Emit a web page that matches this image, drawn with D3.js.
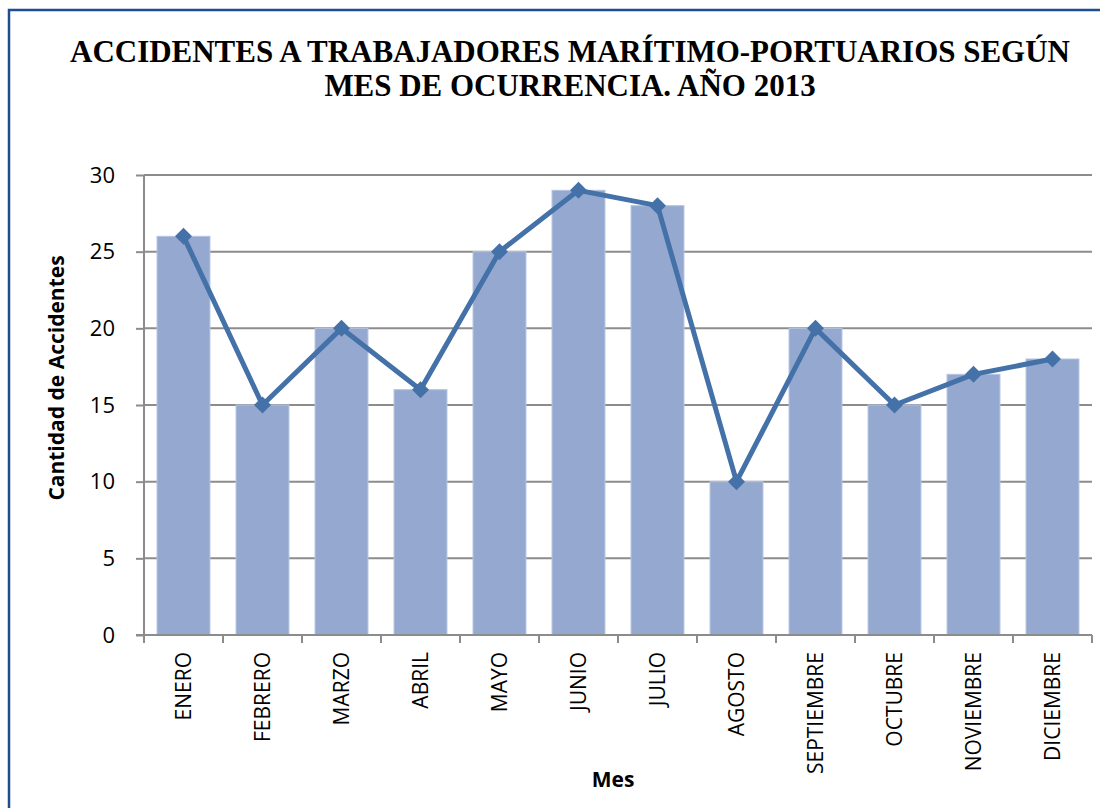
<!DOCTYPE html>
<html>
<head>
<meta charset="utf-8">
<script src="https://cdn.jsdelivr.net/npm/d3@7"></script>
<style>
  body { margin: 0; background: #fff; }
  svg { display: block; }
  .title { font-family: "Liberation Serif", "DejaVu Serif", serif; font-weight: bold; fill: #000; }
  .axis text { font-family: "Open Sans", "Noto Sans", sans-serif; fill: #000; }
  .axis-title { font-family: "Open Sans", "Noto Sans", sans-serif; font-weight: bold; font-size: 21px; }
</style>
</head>
<body>
<div id="chart"></div>
<script>
// data
let months = ["ENERO", "FEBRERO", "MARZO", "ABRIL", "MAYO", "JUNIO", "JULIO",
              "AGOSTO", "SEPTIEMBRE", "OCTUBRE", "NOVIEMBRE", "DICIEMBRE"];
let accidents = [26, 15, 20, 16, 25, 29, 28, 10, 20, 15, 17, 18];
let yTicks = [0, 5, 10, 15, 20, 25, 30];
let titleLines = ["ACCIDENTES A TRABAJADORES MARÍTIMO-PORTUARIOS SEGÚN",
                  "MES DE OCURRENCIA. AÑO 2013"];

let W = 1100, H = 808;
let margin = { top: 175, right: 8, bottom: 173, left: 144 };
let width = W - margin.left - margin.right;
let height = H - margin.top - margin.bottom;

let svg = d3.select("#chart").append("svg")
    .attr("width", W)
    .attr("height", H);

// outer chart border (runs off the right/bottom edge like the original)
svg.append("rect")
    .attr("x", 9).attr("y", 10)
    .attr("width", W + 20).attr("height", H + 20)
    .attr("fill", "none")
    .attr("stroke", "#1f4e8f")
    .attr("stroke-width", 2.5);

// title, scaled so the first line spans ~1000px
let title = svg.append("g").attr("class", "title");
let t1 = title.append("text")
    .attr("x", 570).attr("y", 62)
    .attr("text-anchor", "middle")
    .style("font-size", "30px")
    .text(titleLines[0]);
let fs = 30 * 1000 / t1.node().getComputedTextLength();
t1.style("font-size", fs + "px");
title.append("text")
    .attr("x", 570).attr("y", 96)
    .attr("text-anchor", "middle")
    .style("font-size", fs + "px")
    .text(titleLines[1]);

let g = svg.append("g")
    .attr("transform", "translate(" + margin.left + "," + margin.top + ")");

let x = d3.scaleBand()
    .domain(months)
    .range([0, width])
    .paddingInner(0.33)
    .paddingOuter(0.165);

let y = d3.scaleLinear()
    .domain([0, 30])
    .range([height, 0]);

// gridlines
g.append("g")
    .selectAll("line")
    .data(yTicks.filter(d => d > 0))
    .enter().append("line")
    .attr("x1", 0).attr("x2", width)
    .attr("y1", d => y(d)).attr("y2", d => y(d))
    .attr("stroke", "#8c8c8c")
    .attr("stroke-width", 2);

// bars
g.selectAll(".bar")
    .data(accidents)
    .enter().append("rect")
    .attr("class", "bar")
    .attr("x", (d, i) => x(months[i]))
    .attr("y", d => y(d))
    .attr("width", x.bandwidth())
    .attr("height", d => height - y(d))
    .attr("fill", "#95a9d0")
    .attr("stroke", "#b4c3e0")
    .attr("stroke-width", 1);

// y axis
let yAxis = g.append("g")
    .attr("class", "axis")
    .call(d3.axisLeft(y).tickValues(yTicks).tickSize(8).tickPadding(21));
yAxis.selectAll("line, path").attr("stroke", "#8c8c8c").attr("stroke-width", 2);
yAxis.select("path").attr("d", "M0," + height + "V0");
yAxis.selectAll("text").style("font-size", "22px");

// x axis, ticks at band edges
let xAxis = g.append("g")
    .attr("class", "axis")
    .attr("transform", "translate(0," + height + ")");
xAxis.append("line")
    .attr("x1", -8).attr("x2", width)
    .attr("stroke", "#8c8c8c").attr("stroke-width", 2);
xAxis.selectAll(".edge")
    .data(d3.range(months.length + 1))
    .enter().append("line")
    .attr("class", "edge")
    .attr("x1", i => i * x.step()).attr("x2", i => i * x.step())
    .attr("y1", 0).attr("y2", 8)
    .attr("stroke", "#8c8c8c").attr("stroke-width", 2);
xAxis.selectAll(".lbl")
    .data(months)
    .enter().append("text")
    .attr("class", "lbl")
    .attr("transform", d => "translate(" + (x(d) + x.bandwidth() / 2) + ",17) rotate(-90)")
    .attr("text-anchor", "end")
    .attr("dy", "0.35em")
    .style("font-size", "21px")
    .text(d => d);

// line + diamond markers
let cx = (d, i) => x(months[i]) + x.bandwidth() / 2;
g.append("path")
    .datum(accidents)
    .attr("fill", "none")
    .attr("stroke", "#4471a8")
    .attr("stroke-width", 5)
    .attr("stroke-linejoin", "round")
    .attr("d", d3.line().x(cx).y(d => y(d)));

g.selectAll(".marker")
    .data(accidents)
    .enter().append("path")
    .attr("class", "marker")
    .attr("transform", (d, i) => "translate(" + cx(d, i) + "," + y(d) + ") rotate(45)")
    .attr("d", "M-6,-6H6V6H-6Z")
    .attr("fill", "#4471a8");

// axis titles
svg.append("text")
    .attr("class", "axis-title")
    .attr("x", 613).attr("y", 787)
    .attr("text-anchor", "middle")
    .text("Mes");

svg.append("text")
    .attr("class", "axis-title")
    .attr("transform", "translate(64,378) rotate(-90)")
    .attr("text-anchor", "middle")
    .text("Cantidad de Accidentes");
</script>
</body>
</html>
